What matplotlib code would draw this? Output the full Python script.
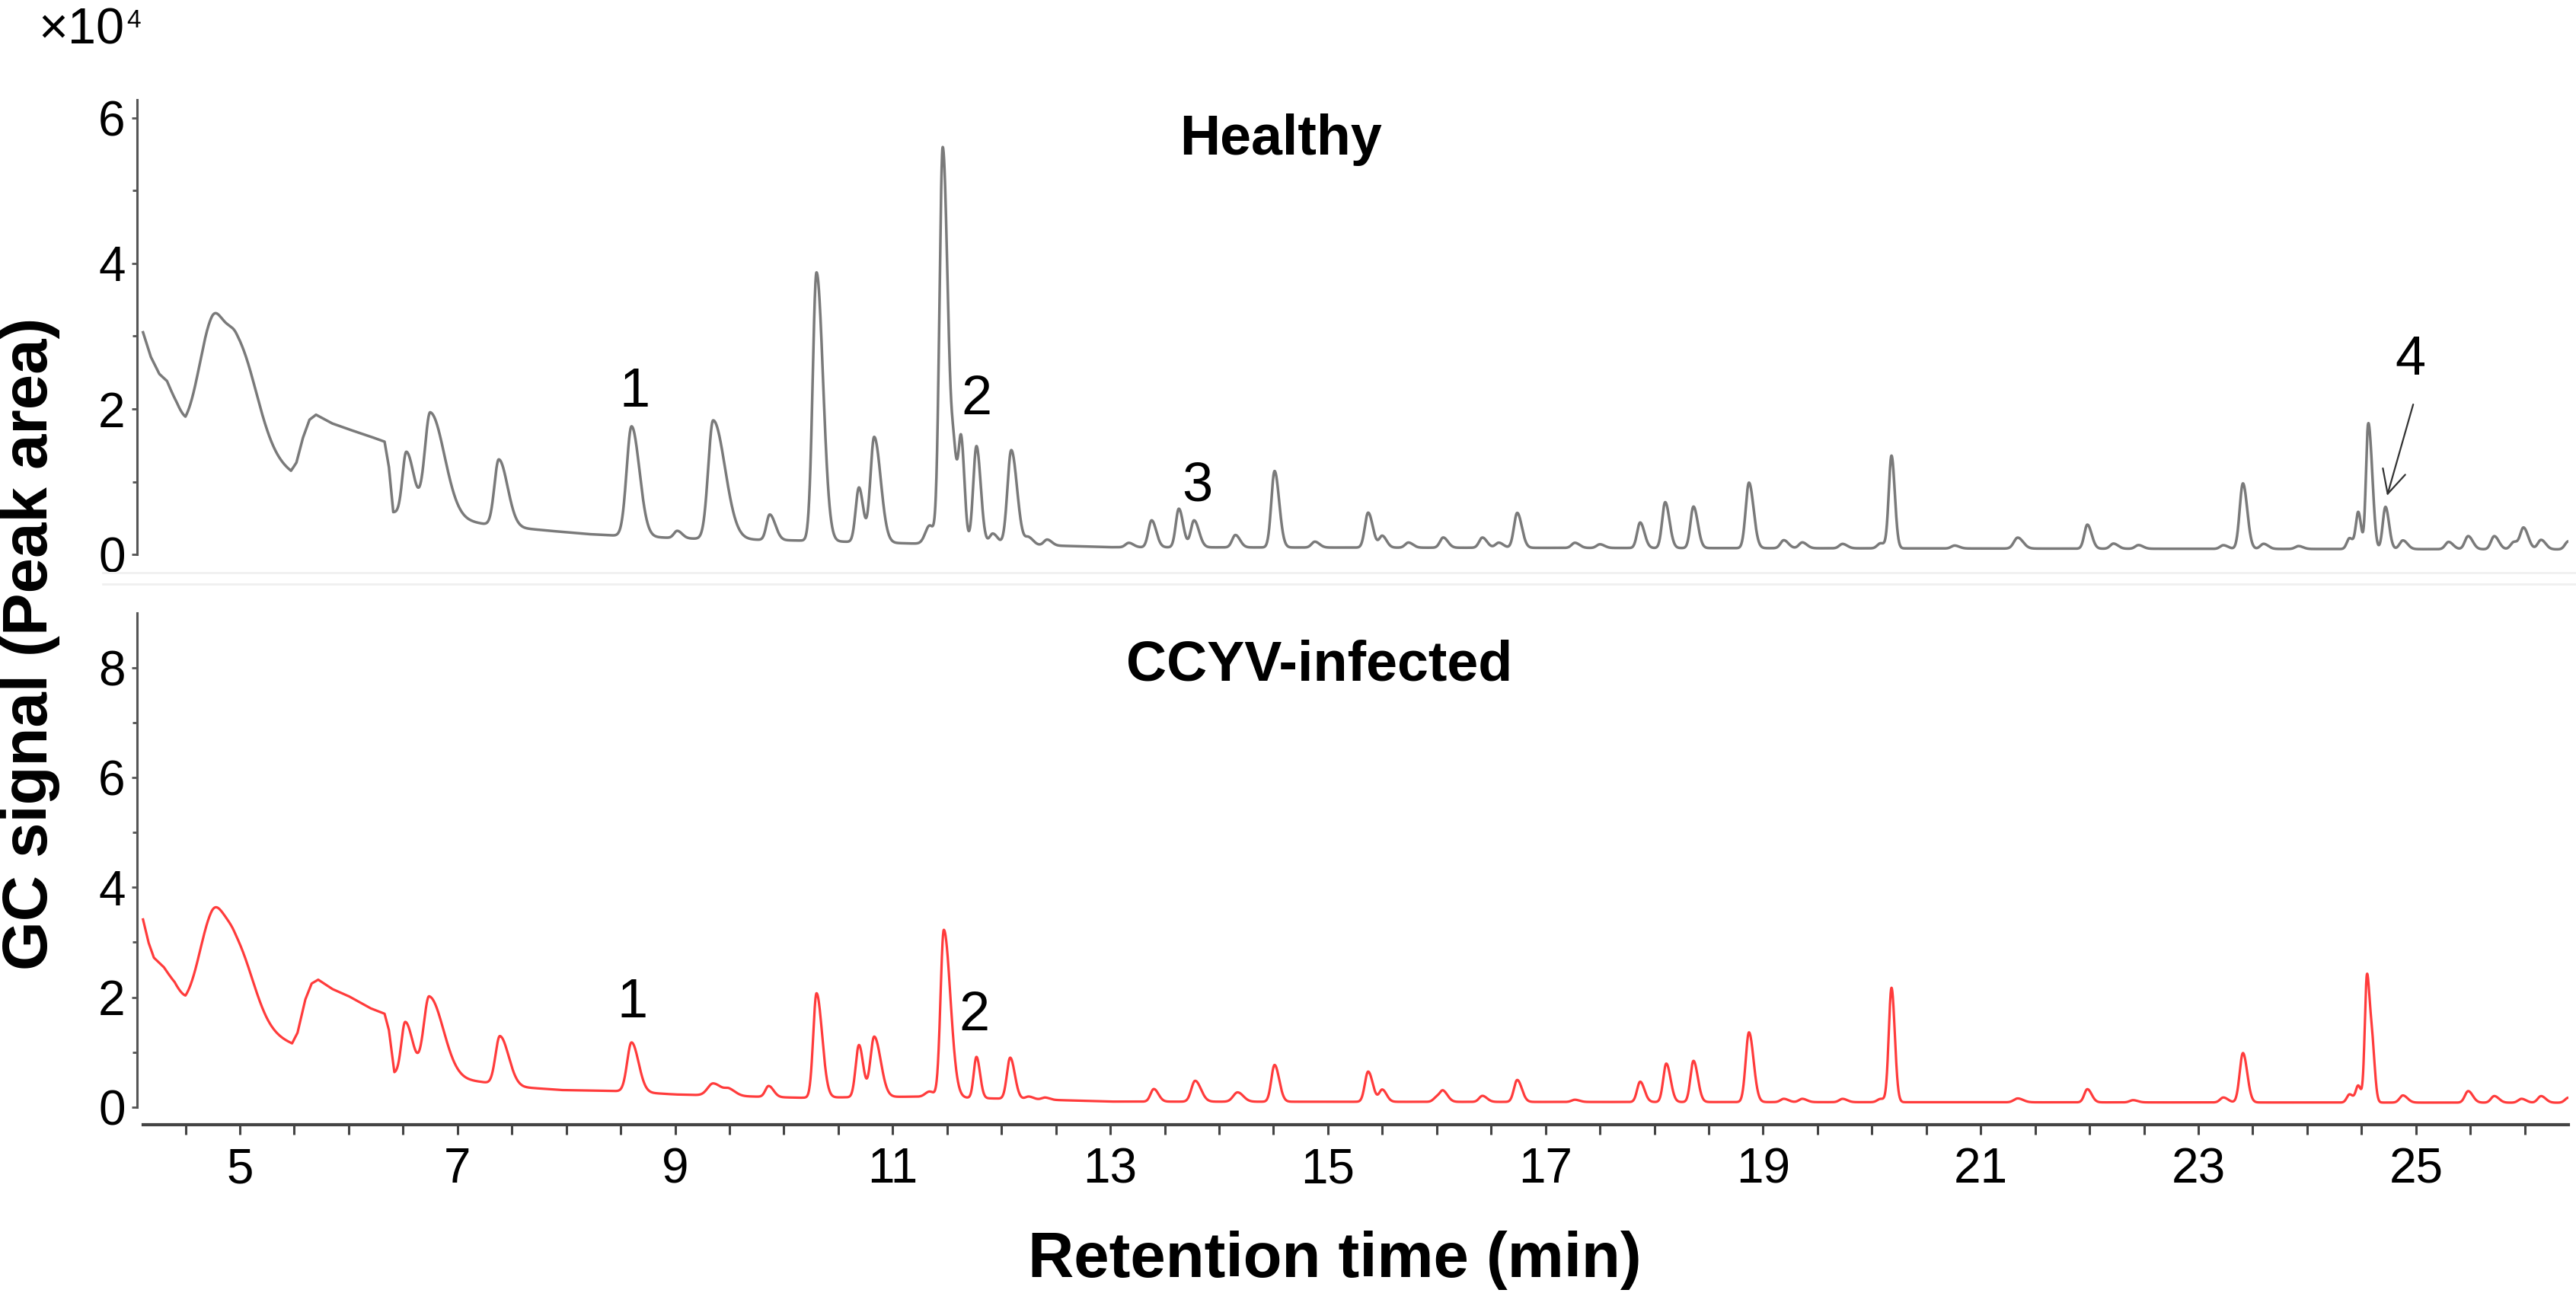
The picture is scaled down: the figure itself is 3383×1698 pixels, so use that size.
import numpy as np
import matplotlib
matplotlib.use("Agg")
import matplotlib.pyplot as plt

plt.rcParams['font.family'] = ['Liberation Sans', 'DejaVu Sans']

# retention time grid (min)
rt = np.arange(4.11, 26.40, 0.002)

# ---- Healthy: drifting baseline (knots) + peak table, x10^4
healthy_base_t = [4.10, 4.18, 4.26, 4.33, 4.42, 4.50, 4.74, 5.00, 5.25, 5.47, 5.52, 5.58, 5.64, 5.70, 5.85, 6.00,
                  6.20, 6.33, 6.37, 6.41, 6.80, 7.24, 7.60, 7.89, 8.20, 8.45, 9.10, 10.20, 11.20, 12.30, 13.00, 26.45]
healthy_base_v = [3.10, 2.72, 2.48, 2.38, 2.05, 1.70, 1.60, 1.45, 1.28, 1.12, 1.25, 1.60, 1.85, 1.92, 1.80, 1.72,
                  1.62, 1.55, 1.20, 0.58, 0.52, 0.42, 0.36, 0.32, 0.28, 0.26, 0.22, 0.19, 0.15, 0.13, 0.10, 0.07]

healthy_rt = [4.74, 4.97, 6.53, 6.75, 7.38, 8.60, 9.02, 9.35, 9.87, 10.30, 10.69, 10.83, 11.34, 11.46, 11.565, 11.63,
              11.77, 11.92, 12.09, 12.25, 12.42, 13.17, 13.38, 13.63, 13.77, 14.15, 14.51, 14.88, 15.37, 15.50, 15.74,
              16.06, 16.42, 16.57, 16.74, 17.27, 17.50, 17.87, 18.10, 18.36, 18.87, 19.19, 19.36, 19.73, 20.08, 20.18,
              20.76, 21.34, 21.98, 22.22, 22.45, 23.23, 23.41, 23.60, 23.92, 24.39, 24.47, 24.56, 24.60, 24.72, 24.88,
              25.30, 25.48, 25.72, 25.90, 25.99, 26.15, 26.40]
healthy_h = [1.43, 1.45, 0.85, 1.42, 0.91, 1.51, 0.10, 1.63, 0.35, 3.69, 0.75, 1.45, 0.25, 5.45, 0.90, 1.40,
             1.35, 0.15, 1.30, 0.10, 0.08, 0.06, 0.37, 0.53, 0.37, 0.17, 1.05, 0.08, 0.48, 0.16, 0.07,
             0.14, 0.14, 0.07, 0.48, 0.07, 0.05, 0.35, 0.63, 0.57, 0.90, 0.11, 0.08, 0.06, 0.07, 1.27,
             0.04, 0.15, 0.33, 0.07, 0.05, 0.05, 0.90, 0.07, 0.04, 0.15, 0.50, 1.65, 0.50, 0.58, 0.12,
             0.10, 0.18, 0.18, 0.10, 0.29, 0.13, 0.11]
healthy_w = [0.12, 0.12, 0.035, 0.05, 0.04, 0.045, 0.03, 0.045, 0.03, 0.035, 0.03, 0.035, 0.04, 0.03, 0.025, 0.025,
             0.03, 0.03, 0.035, 0.03, 0.03, 0.03, 0.03, 0.028, 0.03, 0.03, 0.03, 0.03, 0.03, 0.028, 0.03,
             0.03, 0.03, 0.03, 0.03, 0.03, 0.03, 0.028, 0.028, 0.028, 0.03, 0.03, 0.03, 0.03, 0.03, 0.025,
             0.03, 0.035, 0.028, 0.03, 0.03, 0.03, 0.03, 0.03, 0.03, 0.025, 0.022, 0.02, 0.02, 0.025, 0.03,
             0.03, 0.03, 0.03, 0.03, 0.03, 0.03, 0.03]
healthy_tail = [0.85, 1.5, 2.0, 2.6, 2.0, 1.6, 1.5, 2.4, 1.7, 1.7, 1.3, 1.7, 1.0, 1.6, 1.2, 1.2,
                1.3, 1.5, 1.5, 1.4, 1.4, 1.4, 1.4, 1.4, 1.5, 1.4, 1.4, 1.4, 1.4, 1.4, 1.4,
                1.4, 1.4, 1.4, 1.4, 1.4, 1.4, 1.4, 1.4, 1.4, 1.4, 1.4, 1.4, 1.4, 1.4, 1.2,
                1.4, 1.4, 1.4, 1.4, 1.4, 1.4, 1.3, 1.4, 1.4, 1.4, 1.2, 1.3, 1.2, 1.3, 1.4,
                1.4, 1.4, 1.4, 1.4, 1.4, 1.4, 1.4]

# ---- CCYV-infected
infected_base_t = [4.10, 4.16, 4.21, 4.30, 4.40, 4.50, 4.74, 5.00, 5.25, 5.48, 5.53, 5.60, 5.66, 5.72, 5.85, 6.00,
                   6.20, 6.33, 6.37, 6.42, 6.80, 7.21, 7.60, 7.96, 8.50, 9.00, 10.14, 11.20, 12.30, 13.00, 26.45]
infected_base_v = [3.50, 3.00, 2.72, 2.55, 2.25, 1.82, 1.70, 1.52, 1.32, 1.15, 1.35, 1.95, 2.25, 2.32, 2.15, 2.02,
                   1.80, 1.70, 1.40, 0.62, 0.55, 0.46, 0.36, 0.31, 0.29, 0.23, 0.17, 0.19, 0.14, 0.10, 0.08]

infected_rt = [4.74, 4.95, 6.52, 6.74, 7.39, 8.60, 9.35, 9.50, 9.86, 10.30, 10.69, 10.83, 11.34, 11.47, 11.77, 12.08,
               12.25, 12.40, 13.40, 13.78, 14.17, 14.51, 15.37, 15.50, 16.00, 16.06, 16.42, 16.74, 17.27, 17.87,
               18.11, 18.36, 18.87, 19.19, 19.36, 19.73, 20.08, 20.18, 21.34, 21.98, 22.40, 23.23, 23.41, 24.39,
               24.47, 24.55, 24.60, 24.88, 25.48, 25.72, 25.97, 26.15, 26.40]
infected_h = [1.55, 1.45, 0.95, 1.45, 0.88, 0.90, 0.22, 0.10, 0.20, 1.90, 0.95, 1.10, 0.10, 3.05, 0.75, 0.75,
              0.05, 0.04, 0.23, 0.38, 0.17, 0.67, 0.55, 0.22, 0.08, 0.18, 0.11, 0.40, 0.04, 0.37,
              0.70, 0.75, 1.27, 0.06, 0.06, 0.06, 0.06, 2.08, 0.07, 0.24, 0.04, 0.09, 0.90, 0.15,
              0.30, 2.30, 0.90, 0.13, 0.21, 0.12, 0.07, 0.12, 0.09]
infected_w = [0.12, 0.12, 0.035, 0.05, 0.04, 0.04, 0.05, 0.04, 0.03, 0.03, 0.03, 0.035, 0.04, 0.03, 0.025, 0.03,
              0.03, 0.03, 0.03, 0.035, 0.04, 0.03, 0.03, 0.028, 0.03, 0.03, 0.03, 0.03, 0.03, 0.028,
              0.028, 0.028, 0.03, 0.03, 0.03, 0.03, 0.03, 0.025, 0.035, 0.028, 0.03, 0.03, 0.03, 0.025,
              0.022, 0.02, 0.02, 0.03, 0.03, 0.03, 0.03, 0.03, 0.03]
infected_tail = [0.85, 1.4, 2.0, 2.6, 2.0, 1.6, 1.6, 1.5, 1.5, 1.7, 1.3, 1.7, 1.0, 2.0, 1.3, 1.4,
                 1.4, 1.4, 1.4, 1.5, 1.3, 1.4, 1.4, 1.4, 1.4, 1.4, 1.4, 1.4, 1.4, 1.4,
                 1.4, 1.4, 1.4, 1.4, 1.4, 1.4, 1.4, 1.2, 1.4, 1.4, 1.4, 1.4, 1.3, 1.4,
                 1.2, 1.3, 1.2, 1.4, 1.4, 1.4, 1.4, 1.4, 1.4]

# peak labels: (text, rt, baseline height)
healthy_labels = [("1", 8.63, 2.03), ("2", 11.77, 1.93), ("3", 13.80, 0.74)]
infected_labels = [("1", 8.61, 1.63), ("2", 11.75, 1.40)]


def chromatogram(base_t, base_v, centres, heights, widths, tails):
    y = np.interp(rt, base_t, base_v)
    for c, h, w, k in zip(centres, heights, widths, tails):
        s = np.where(rt < c, w, w * k)
        y = y + h * np.exp(-0.5 * ((rt - c) / s) ** 2)
    return y


healthy = chromatogram(healthy_base_t, healthy_base_v, healthy_rt, healthy_h, healthy_w, healthy_tail)
infected = chromatogram(infected_base_t, infected_base_v, infected_rt, infected_h, infected_w, infected_tail)

fig = plt.figure(figsize=(33.83, 16.98), dpi=100)
ax1 = fig.add_axes([0.0532, 0.5571, 0.9438, 0.3940])
ax2 = fig.add_axes([0.0532, 0.1302, 0.9438, 0.4022])

spine_col = '#555555'
for ax in (ax1, ax2):
    ax.set_xlim(4.055, 26.40)
    for s in ('top', 'right'):
        ax.spines[s].set_visible(False)
    ax.spines['left'].set_color(spine_col)
    ax.spines['left'].set_linewidth(2.2)
    ax.tick_params(axis='y', which='both', direction='out', length=5, width=2,
                   color=spine_col, labelsize=46, pad=6)
    ax.tick_params(axis='y', which='minor', length=4)

ax1.plot(rt, healthy, color='#7a7a7a', lw=2.5)
ax1.set_ylim(-0.25, 6.75)
ax1.spines['left'].set_bounds(0, 6.25)
ax1.spines['bottom'].set_visible(False)
ax1.set_xticks([])
ax1.set_yticks([0, 2, 4, 6])
ax1.set_yticks([1, 3, 5], minor=True)

ax2.plot(rt, infected, color='#ff3b3b', lw=2.3)
ax2.set_ylim(-0.32, 9.15)
ax2.spines['left'].set_bounds(0, 9.0)
ax2.spines['bottom'].set_bounds(4.11, 26.40)
ax2.spines['bottom'].set_color('#444444')
ax2.spines['bottom'].set_linewidth(3)
ax2.set_yticks([0, 2, 4, 6, 8])
ax2.set_yticks([1, 3, 5, 7], minor=True)
ax2.set_xticks(np.arange(5, 26, 2))
ax2.set_xticks(np.arange(4.5, 26.5, 0.5), minor=True)
ax2.tick_params(axis='x', which='both', direction='out', length=9, width=2.2,
                color='#444444', labelsize=46, pad=12)

ax1.text(14.57, 5.49, "Healthy", fontsize=53, fontweight='bold', ha='center', va='baseline')
ax2.text(14.92, 7.77, "CCYV-infected", fontsize=53, fontweight='bold', ha='center', va='baseline')

for txt, x, y in healthy_labels:
    ax1.text(x, y, txt, fontsize=52, ha='center', va='baseline')
for txt, x, y in infected_labels:
    ax2.text(x, y, txt, fontsize=52, ha='center', va='baseline')

ax1.text(24.95, 2.47, "4", fontsize=52, ha='center', va='baseline')
ax1.annotate("", xy=(24.73, 0.78), xytext=(24.98, 2.09),
             arrowprops=dict(arrowstyle='->', color='#333333', lw=1.6, mutation_scale=55))

# x10^4 multiplier
fig.text(50 / 3383, 1 - 58 / 1698, "\u00d710", fontsize=48, ha='left', va='baseline')
fig.text(166 / 3383, 1 - 36 / 1698, "4", fontsize=24, ha='left', va='baseline')

fig.text(0.0118, 0.502, "GC signal (Peak area)", fontsize=60, fontweight='bold',
         rotation=90, ha='center', va='center')
fig.text(0.518, 0.0124, "Retention time (min)", fontsize=60, fontweight='bold',
         ha='center', va='baseline')

# faint panel separators
for yy in (752, 767):
    fig.add_artist(plt.Line2D([0.04, 1.0], [1 - yy / 1698] * 2, color='#f0f0f0', lw=2))

fig.savefig("out.png", dpi=100)
